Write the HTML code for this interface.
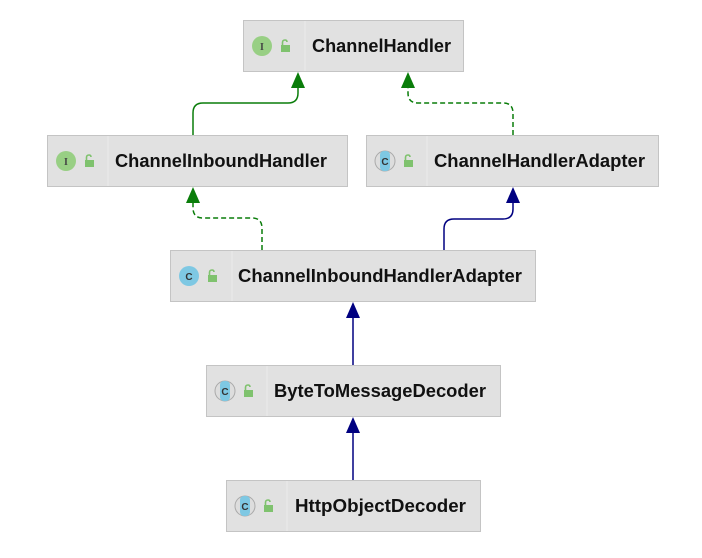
<!DOCTYPE html>
<html><head><style>html,body{margin:0;padding:0;background:#fff;}</style></head>
<body>
<svg width="702" height="553" viewBox="0 0 702 553" xmlns="http://www.w3.org/2000/svg" font-family="Liberation Sans, sans-serif">
<defs>
<g id="lock"><rect x="0" y="4" width="9" height="7" fill="#7fc26e"/><path d="M1.5 4 V1.5 Q1.5 -1 4 -1 Q6 -1 6 1" fill="none" stroke="#7fc26e" stroke-width="1.6"/></g>
</defs>
<g fill="none" stroke-width="1.5">
<path d="M193 135 V113 Q193 103 203 103 H288 Q298 103 298 93 V86" stroke="#0a7d0a"/>
<path d="M513 135 V113 Q513 103 503 103 H418 Q408 103 408 93 V86" stroke="#0a7d0a" stroke-dasharray="5,3"/>
<path d="M262 250 V228 Q262 218 252 218 H203 Q193 218 193 208 V201" stroke="#0a7d0a" stroke-dasharray="5,3"/>
<path d="M444 250 V229 Q444 219 454 219 H503 Q513 219 513 209 V201" stroke="#000080"/>
<path d="M353 365 V316" stroke="#000080"/>
<path d="M353 480 V431" stroke="#000080"/>
</g>
<g>
<polygon points="298,72 291,88 305,88" fill="#0a7d0a"/>
<polygon points="408,72 401,88 415,88" fill="#0a7d0a"/>
<polygon points="193,187 186,203 200,203" fill="#0a7d0a"/>
<polygon points="513,187 506,203 520,203" fill="#000080"/>
<polygon points="353,302 346,318 360,318" fill="#000080"/>
<polygon points="353,417 346,433 360,433" fill="#000080"/>
</g>
<g stroke="#c4c4c4" fill="#e1e1e1">
<rect x="243.5" y="20.5" width="220" height="51"/>
<rect x="47.5" y="135.5" width="300" height="51"/>
<rect x="366.5" y="135.5" width="292" height="51"/>
<rect x="170.5" y="250.5" width="365" height="51"/>
<rect x="206.5" y="365.5" width="294" height="51"/>
<rect x="226.5" y="480.5" width="254" height="51"/>
</g>
<g stroke="#ececec">
<line x1="305" y1="21" x2="305" y2="71"/>
<line x1="108" y1="136" x2="108" y2="186"/>
<line x1="427" y1="136" x2="427" y2="186"/>
<line x1="232" y1="251" x2="232" y2="301"/>
<line x1="267" y1="366" x2="267" y2="416"/>
<line x1="287" y1="481" x2="287" y2="531"/>
</g>
<g font-size="10" font-weight="bold" text-anchor="middle">
<circle cx="262" cy="46" r="10" fill="#98cf84"/><text x="262" y="50" font-family="Liberation Serif,serif" fill="#444">I</text>
<circle cx="66" cy="161" r="10" fill="#98cf84"/><text x="66" y="165" font-family="Liberation Serif,serif" fill="#444">I</text>
<circle cx="385" cy="161" r="10" fill="#ddd" stroke="#aaa"/><rect x="380" y="151" width="10" height="20" rx="4" fill="#7ec8e3"/><text x="385" y="165" fill="#333">C</text>
<circle cx="189" cy="276" r="10" fill="#7ec8e3"/><text x="189" y="280" fill="#333">C</text>
<circle cx="225" cy="391" r="10" fill="#ddd" stroke="#aaa"/><rect x="220" y="381" width="10" height="20" rx="4" fill="#7ec8e3"/><text x="225" y="395" fill="#333">C</text>
<circle cx="245" cy="506" r="10" fill="#ddd" stroke="#aaa"/><rect x="240" y="496" width="10" height="20" rx="4" fill="#7ec8e3"/><text x="245" y="510" fill="#333">C</text>
</g>
<use href="#lock" x="281" y="41"/>
<use href="#lock" x="85" y="156"/>
<use href="#lock" x="404" y="156"/>
<use href="#lock" x="208" y="271"/>
<use href="#lock" x="244" y="386"/>
<use href="#lock" x="264" y="501"/>
<g font-size="18" font-weight="bold" fill="#111">
<text x="312" y="52" textLength="139" lengthAdjust="spacingAndGlyphs">ChannelHandler</text>
<text x="115" y="167" textLength="212" lengthAdjust="spacingAndGlyphs">ChannelInboundHandler</text>
<text x="434" y="167" textLength="211" lengthAdjust="spacingAndGlyphs">ChannelHandlerAdapter</text>
<text x="238" y="282" textLength="284" lengthAdjust="spacingAndGlyphs">ChannelInboundHandlerAdapter</text>
<text x="274" y="397" textLength="212" lengthAdjust="spacingAndGlyphs">ByteToMessageDecoder</text>
<text x="295" y="512" textLength="171" lengthAdjust="spacingAndGlyphs">HttpObjectDecoder</text>
</g>
</svg>
</body></html>
